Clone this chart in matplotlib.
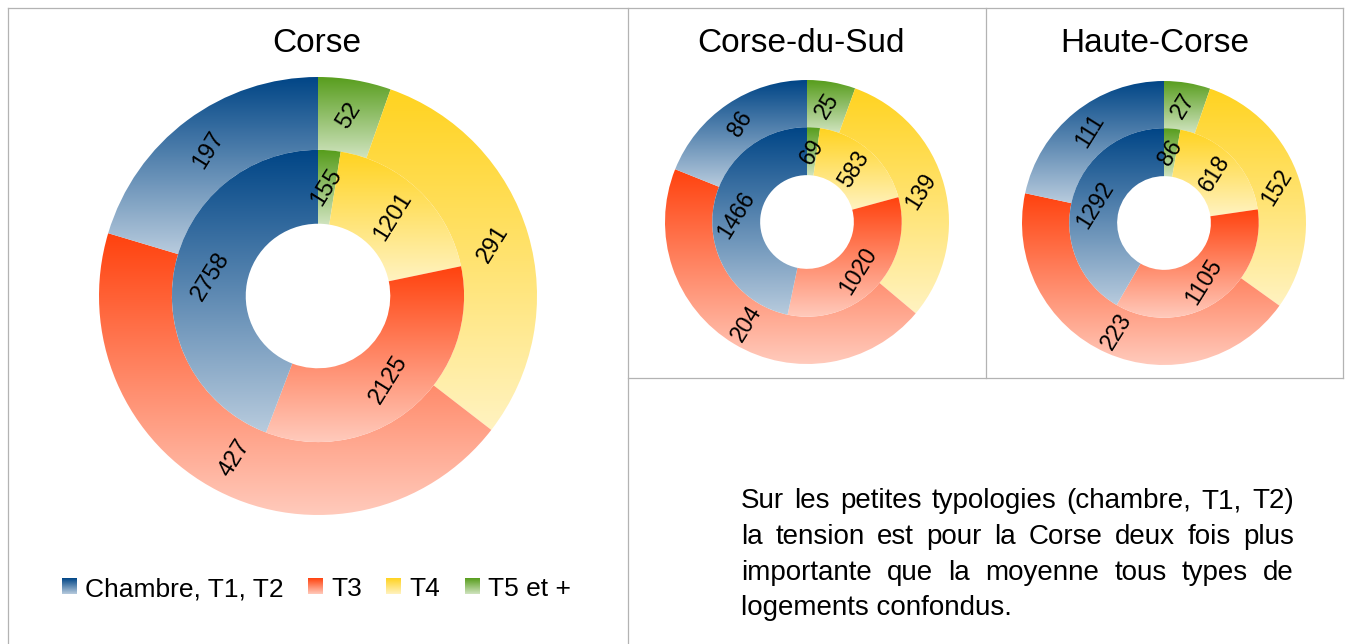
import matplotlib
matplotlib.use('Agg')
import matplotlib.pyplot as plt
import numpy as np
from matplotlib.colors import to_rgb

plt.rcParams['font.family'] = ['Liberation Sans', 'DejaVu Sans']

W, H = 1349, 644
DPI = 100

# ---------------- data ----------------
categories = ['Chambre, T1, T2', 'T3', 'T4', 'T5 et +']
colors = ['#004586', '#ff420e', '#ffd320', '#579d1c']

titles = ['Corse', 'Corse-du-Sud', 'Haute-Corse']
# outer ring (order: Chambre T1 T2, T3, T4, T5 et +)
outer_corse = [197, 427, 291, 52]
outer_cds = [86, 204, 139, 25]
outer_hc = [111, 223, 152, 27]
# inner ring
inner_corse = [2758, 2125, 1201, 155]
inner_cds = [1466, 1020, 583, 69]
inner_hc = [1292, 1105, 618, 86]

paragraph = ["Sur les petites typologies (chambre, T1, T2)",
             "la tension est pour la Corse deux fois plus",
             "importante que la moyenne tous types de",
             "logements confondus."]

# ---------------- helpers ----------------
LIGHT = 0.72


def grad_img(color, n=256, t=LIGHT):
    c = np.array(to_rgb(color))
    f = np.linspace(0, t, n)[:, None]
    img = c[None, :] * (1 - f) + f
    return img[:, None, :]


fig = plt.figure(figsize=(W / DPI, H / DPI), dpi=DPI)
fig.patch.set_facecolor('white')

# overlay axes in pixel coordinates (frames, legend, paragraph)
ax0 = fig.add_axes([0, 0, 1, 1], zorder=0)
ax0.set_axis_off()

gc = '#b3b3b3'
lw = 0.9
ax0.plot([7.5, 1342.5], [7.5, 7.5], color=gc, lw=lw)
ax0.plot([7.5, 7.5], [7.5, H], color=gc, lw=lw)
ax0.plot([628, 628], [7.5, H], color=gc, lw=lw)
ax0.plot([986, 986], [7.5, 377.5], color=gc, lw=lw)
ax0.plot([1342.5, 1342.5], [7.5, 377.5], color=gc, lw=lw)
ax0.plot([628, 1342.5], [377.5, 377.5], color=gc, lw=lw)


def donut(cx, cy, R, outer, inner, title, title_x, fs_lab=16.5):
    pad = 1.04
    ax = fig.add_axes([(cx - R * pad) / W, (H - (cy + R * pad)) / H,
                       2 * R * pad / W, 2 * R * pad / H], zorder=2)
    ax.set_axis_off()
    cols = colors[::-1]
    hole = 0.33
    mid = 0.667
    for vals, rad, width in [(outer, 1.0, 1.0 - mid), (inner, mid, mid - hole)]:
        v = vals[::-1]
        wedges, _ = ax.pie(v, radius=rad, startangle=90, counterclock=False,
                           colors=cols, wedgeprops=dict(width=width, linewidth=0))
        for w, val, col in zip(wedges, v, cols):
            w.set_facecolor('none')
            w.set_edgecolor('none')
            bb = w.get_path().get_extents()
            im = ax.imshow(grad_img(col), extent=[bb.x0, bb.x1, bb.y0, bb.y1],
                           origin='upper', aspect='auto', interpolation='bilinear',
                           zorder=1)
            im.set_clip_path(w)
            ang = np.deg2rad((w.theta1 + w.theta2) / 2)
            r = w.r - w.width / 2
            ax.text(r * np.cos(ang), r * np.sin(ang), str(val), rotation=58,
                    rotation_mode='anchor', ha='center', va='center',
                    fontsize=fs_lab, color='black', zorder=3)
    ax.set_xlim(-pad, pad)
    ax.set_ylim(-pad, pad)
    ax.set_aspect('equal')
    fig.text(title_x / W, 1 - 52 / H, title, ha='center', va='baseline',
             fontsize=24, color='black')


donut(318, 296, 219, outer_corse, inner_corse, titles[0], 317, fs_lab=17)
donut(807, 222, 142, outer_cds, inner_cds, titles[1], 801, fs_lab=16.5)
donut(1164, 223, 142, outer_hc, inner_hc, titles[2], 1155, fs_lab=16.5)

# ---------------- legend ----------------
sq_x = [62, 308, 386, 465]
for x, lab, col in zip(sq_x, categories, colors):
    ax0.imshow(grad_img(col), extent=[x, x + 15, 594, 578], origin='upper',
               aspect='auto', interpolation='bilinear', zorder=2)
    ax0.text(x + 23, 596, lab, fontsize=19, ha='left', va='baseline', color='black')

# ---------------- justified paragraph ----------------
renderer = fig.canvas.get_renderer()
x_left, x_right = 741, 1294
base_y = [508, 544, 580, 615]
fs_p = 20
for i, (line, by) in enumerate(zip(paragraph, base_y)):
    words = line.split(' ')
    if i == len(paragraph) - 1:
        ax0.text(x_left, by, line, fontsize=fs_p, ha='left', va='baseline')
        continue
    texts = [ax0.text(0, by, w_, fontsize=fs_p, ha='left', va='baseline') for w_ in words]
    widths = [t.get_window_extent(renderer).width for t in texts]
    gap = (x_right - x_left - sum(widths)) / (len(words) - 1)
    x = x_left
    for t, wd in zip(texts, widths):
        t.set_x(x)
        x += wd + gap

ax0.set_xlim(0, W)
ax0.set_ylim(H, 0)

fig.savefig('out.png', dpi=DPI, facecolor='white')
